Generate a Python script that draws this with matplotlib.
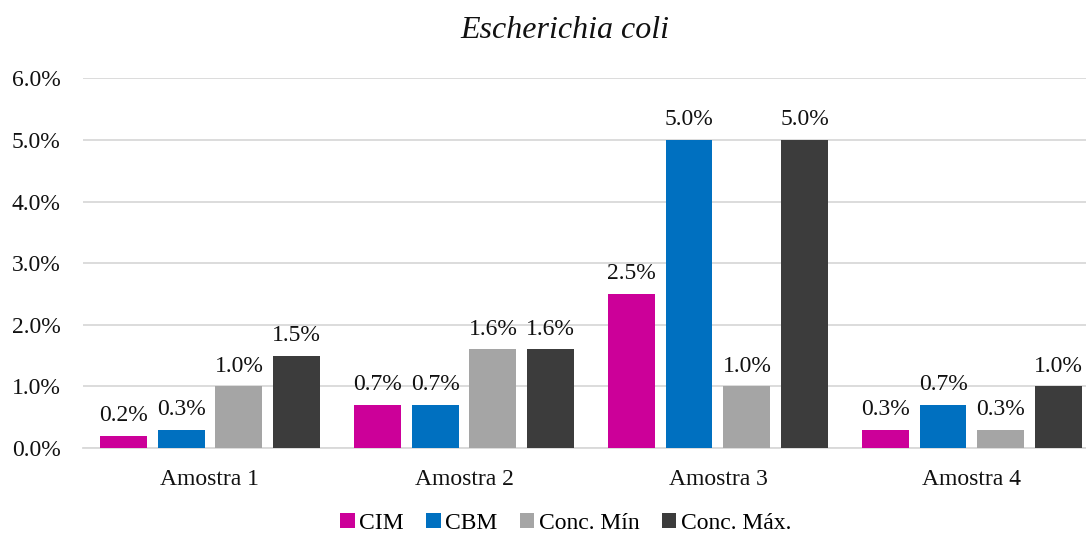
import matplotlib
matplotlib.use("Agg")
import matplotlib.pyplot as plt
import numpy as np

categories = ["Amostra 1", "Amostra 2", "Amostra 3", "Amostra 4"]
series_names = ["CIM", "CBM", "Conc. Mín", "Conc. Máx."]
cim = [0.2, 0.7, 2.5, 0.3]
cbm = [0.3, 0.7, 5.0, 0.7]
conc_min = [1.0, 1.6, 1.0, 0.3]
conc_max = [1.5, 1.6, 5.0, 1.0]
colors = ["#CC0099", "#0070C0", "#A5A5A5", "#3C3C3C"]
yticks = [0, 1, 2, 3, 4, 5, 6]

plt.rcParams["font.family"] = ["Liberation Serif", "DejaVu Serif"]

fig = plt.figure(figsize=(10.86, 5.36), dpi=100)
ax = fig.add_axes([0.0764, 0.164, 0.9236, 0.69])

x = np.arange(len(categories))
width = 0.185
step = 0.228
all_series = [cim, cbm, conc_min, conc_max]
for i, (vals, name, col) in enumerate(zip(all_series, series_names, colors)):
    pos = x + (i - 1.5) * step
    bars = ax.bar(pos, vals, width=width, color=col, label=name, zorder=3)
    for b, v in zip(bars, vals):
        ax.annotate(f"{v:.1f}%", (b.get_x() + b.get_width() / 2, v),
                    xytext=(0, 7), textcoords="offset points",
                    ha="center", va="bottom", fontsize=17, color="#111111")

ax.set_ylim(0, 6)
ax.set_xlim(-0.5, 3.449)
ax.set_yticks(yticks)
ax.set_yticklabels([f"{t:.1f}%" for t in yticks], fontsize=17, color="#111111")
ax.set_xticks(x)
ax.set_xticklabels(categories, fontsize=17, color="#111111")
ax.tick_params(axis="y", length=0, pad=16)
ax.tick_params(axis="x", length=0, pad=15)
ax.yaxis.grid(True, color="#D9D9D9", linewidth=1.3, zorder=0)
ax.set_axisbelow(True)
for s in ["top", "right", "left"]:
    ax.spines[s].set_visible(False)
ax.spines["bottom"].set_color("#D9D9D9")
ax.spines["bottom"].set_linewidth(1.3)

fig.text(0.52, 0.944, "Escherichia coli", ha="center", va="center",
         fontsize=23, style="italic", color="#111111")

fig.legend(loc="center", bbox_to_anchor=(0.521, 0.024), ncol=4, frameon=False,
           fontsize=17, handlelength=0.6, handleheight=0.6, handletextpad=0.2,
           columnspacing=0.95, borderaxespad=0)

fig.savefig("out.png", dpi=100)
